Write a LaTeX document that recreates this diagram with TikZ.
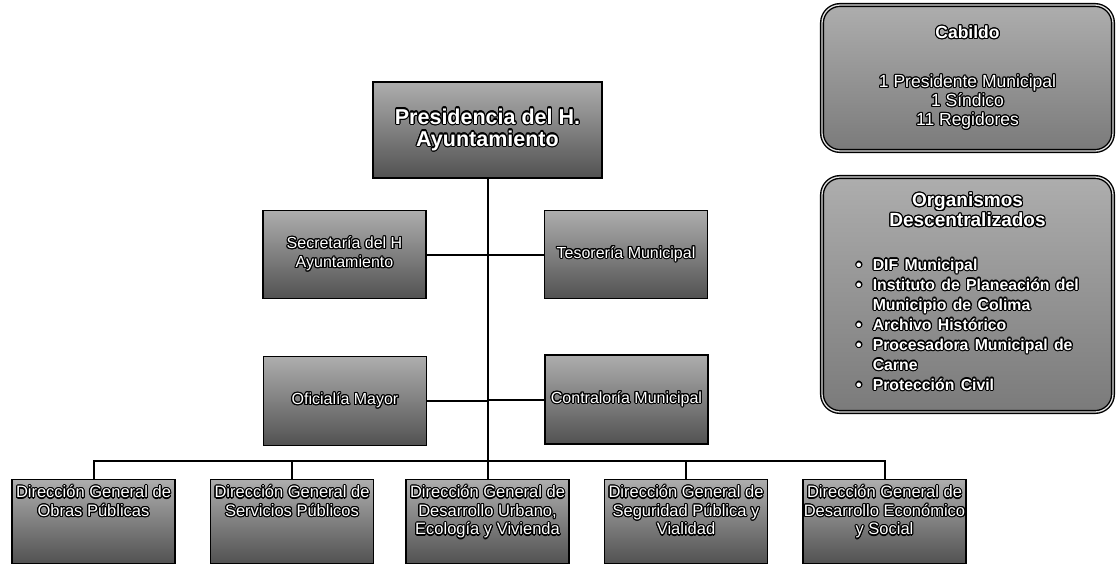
\documentclass[tikz,border=0pt]{standalone}
\usepackage{fontspec}
\setmainfont{Liberation Sans}
\usepackage{contour}
\contourlength{1.1pt}
\newcommand{\outl}[1]{\contour{black}{#1}}

\begin{document}
\begin{tikzpicture}[x=1pt,y=-1pt,
    unit/.style={draw=black,line width=1.8pt,top color=black!32,bottom color=black!68,
        text=white,align=center,inner sep=0pt,minimum width=163pt,
        font=\fontsize{16}{19}\selectfont},
    caption/.style={text=white,align=center,inner sep=0pt,
        font=\fontsize{16.5}{18.5}\selectfont},
    panel/.style={draw=black,line width=1.4pt,double=black!12,double distance=1.3pt,
        rounded corners=18pt,top color=black!32,bottom color=black!52,text=white,
        inner sep=0pt,minimum width=291pt},
    link/.style={line width=2pt}]
    \useasboundingbox (0,0) rectangle (1117,563);

    % top of the chart
    \node[unit,minimum width=229pt,minimum height=96pt,
        font=\fontsize{21.5}{22}\selectfont\bfseries] (pres) at (487.5,130)
        {\outl{Presidencia del H.}\\\outl{Ayuntamiento}};
    \node[unit,minimum height=88pt] (sec) at (344.5,254.5)
        {\outl{Secretaría del H}\\\outl{Ayuntamiento}};
    \node[unit,minimum height=88pt] (tes) at (626,254.5) {\outl{Tesorería Municipal}};
    \node[unit,minimum height=89pt] (ofi) at (345,401) {\outl{Oficialía Mayor}};
    \node[unit,minimum height=89pt] (con) at (626.5,399.5) {\outl{Contraloría Municipal}};

    % direcciones generales
    \foreach \n/\x/\txt in {
        dg1/93.5/{\outl{Dirección General de}\\\outl{Obras Públicas}},
        dg2/292/{\outl{Dirección General de}\\\outl{Servicios Públicos}},
        dg3/487.5/{\outl{Dirección General de}\\\outl{Desarrollo Urbano,}\\\outl{Ecología y Vivienda}},
        dg4/686/{\outl{Dirección General de}\\\outl{Seguridad Pública y}\\\outl{Vialidad}},
        dg5/884.5/{\outl{Dirección General de}\\\outl{Desarrollo Económico}\\\outl{y Social}}}{
        \node[unit,minimum height=84pt] (\n) at (\x,521.5) {};
        \node[caption,anchor=north] (\n t) at ([yshift=-7pt]\n.north) {\txt};
    }

    % side panels
    \node[panel,minimum height=146pt,align=center,font=\fontsize{17.5}{19}\selectfont]
        (cab) at (967.5,78)
        {{\bfseries\outl{Cabildo}}\\[30pt]\outl{1 Presidente Municipal}\\
         \outl{1 Síndico}\\\outl{11 Regidores}};
    \node[panel,minimum height=235pt,text width=291pt,align=center,
        font=\fontsize{19}{20}\selectfont\bfseries] (org) at (967.5,294.5)
        {\outl{Organismos}\\\outl{Descentralizados}\\[27pt]
         \fontsize{15.8}{20}\selectfont
         \begin{tabular}{@{}l@{\hspace{11pt}}l@{}}
         \outl{\textbullet} & \outl{DIF Municipal}\\
         \outl{\textbullet} & \outl{Instituto de Planeación del}\\
                            & \outl{Municipio de Colima}\\
         \outl{\textbullet} & \outl{Archivo Histórico}\\
         \outl{\textbullet} & \outl{Procesadora Municipal de}\\
                            & \outl{Carne}\\
         \outl{\textbullet} & \outl{Protección Civil}
         \end{tabular}\hspace{14pt}};

    % connectors
    \coordinate (bus) at (487.5,461);
    \draw[link] (pres.south) -- (dg3.north);
    \draw[link] (sec.east) -- (sec.east -| pres.south);
    \draw[link] (tes.west) -- (tes.west -| pres.south);
    \draw[link] (ofi.east) -- (ofi.east -| pres.south);
    \draw[link] (con.west) -- (con.west -| pres.south);
    \draw[link] (dg1.north) |- (bus) -| (dg5.north);
    \draw[link] (dg2.north) -- (dg2.north |- bus);
    \draw[link] (dg4.north) -- (dg4.north |- bus);
\end{tikzpicture}
\end{document}
